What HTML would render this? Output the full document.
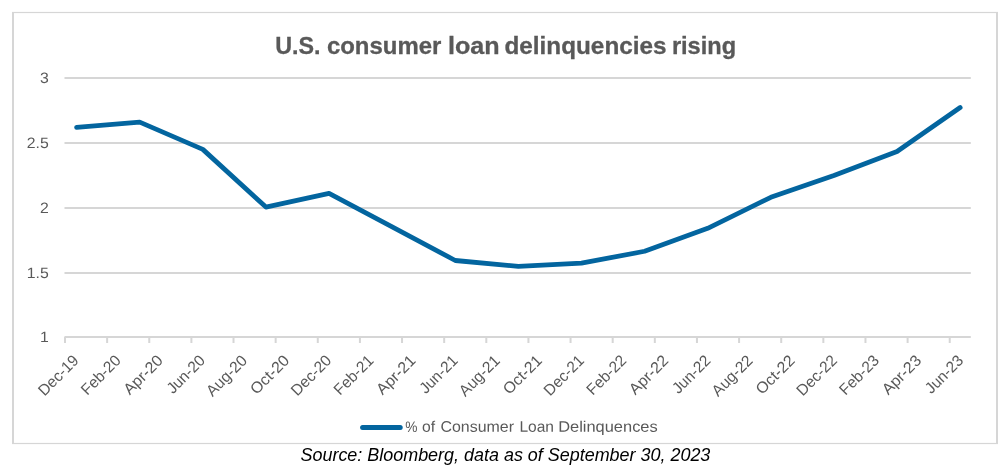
<!DOCTYPE html>
<html><head><meta charset="utf-8"><title>U.S. consumer loan delinquencies rising</title>
<style>html,body{margin:0;padding:0;background:#fff;}body{width:1002px;height:475px;overflow:hidden;position:relative;font-family:"Liberation Sans",sans-serif;}svg{position:absolute;left:0;top:0;display:block;will-change:transform;}text{font-family:"Liberation Sans",sans-serif;}</style>
</head><body>
<svg width="1002" height="475" viewBox="0 0 1002 475">
<rect x="0" y="0" width="1002" height="475" fill="#ffffff"/>
<g fill="#d6d6d6">
<rect x="12" y="12" width="2" height="432"/>
<rect x="996" y="12" width="2" height="432"/>
<rect x="12" y="11.9" width="986" height="1.2"/>
<rect x="12" y="442.9" width="986" height="1.2"/>
<rect x="64.5" y="77.0" width="906.3" height="2"/>
<rect x="64.5" y="142.0" width="906.3" height="2"/>
<rect x="64.5" y="207.0" width="906.3" height="2"/>
<rect x="64.5" y="272.0" width="906.3" height="2"/>
<rect x="64.5" y="336.0" width="906.3" height="2"/>
<rect x="64.00" y="337" width="2" height="6"/>
<rect x="106.13" y="337" width="2" height="6"/>
<rect x="148.26" y="337" width="2" height="6"/>
<rect x="190.39" y="337" width="2" height="6"/>
<rect x="232.52" y="337" width="2" height="6"/>
<rect x="274.65" y="337" width="2" height="6"/>
<rect x="316.78" y="337" width="2" height="6"/>
<rect x="358.91" y="337" width="2" height="6"/>
<rect x="401.04" y="337" width="2" height="6"/>
<rect x="443.17" y="337" width="2" height="6"/>
<rect x="485.30" y="337" width="2" height="6"/>
<rect x="527.43" y="337" width="2" height="6"/>
<rect x="569.56" y="337" width="2" height="6"/>
<rect x="611.69" y="337" width="2" height="6"/>
<rect x="653.82" y="337" width="2" height="6"/>
<rect x="695.95" y="337" width="2" height="6"/>
<rect x="738.08" y="337" width="2" height="6"/>
<rect x="780.21" y="337" width="2" height="6"/>
<rect x="822.34" y="337" width="2" height="6"/>
<rect x="864.47" y="337" width="2" height="6"/>
<rect x="906.60" y="337" width="2" height="6"/>
<rect x="948.73" y="337" width="2" height="6"/>
</g>
<g font-size="15.8" fill="#595959" text-anchor="end">
<text transform="translate(48.7,83.00) rotate(0.03) scale(1,0.95)">3</text>
<text transform="translate(48.7,148.00) rotate(0.03) scale(1,0.95)">2.5</text>
<text transform="translate(48.7,213.00) rotate(0.03) scale(1,0.95)">2</text>
<text transform="translate(48.7,278.00) rotate(0.03) scale(1,0.95)">1.5</text>
<text transform="translate(48.7,342.00) rotate(0.03) scale(1,0.95)">1</text>
</g>
<g font-size="15.7" fill="#595959" text-anchor="end">
<text transform="translate(79.60,361.50) rotate(-45)" textLength="49.7" lengthAdjust="spacingAndGlyphs">Dec-19</text>
<text transform="translate(121.73,361.50) rotate(-45)" textLength="48.8" lengthAdjust="spacingAndGlyphs">Feb-20</text>
<text transform="translate(163.86,361.50) rotate(-45)" textLength="48.2" lengthAdjust="spacingAndGlyphs">Apr-20</text>
<text transform="translate(205.99,361.50) rotate(-45)" textLength="46.8" lengthAdjust="spacingAndGlyphs">Jun-20</text>
<text transform="translate(248.12,361.50) rotate(-45)" textLength="50.4" lengthAdjust="spacingAndGlyphs">Aug-20</text>
<text transform="translate(290.25,361.50) rotate(-45)" textLength="47.7" lengthAdjust="spacingAndGlyphs">Oct-20</text>
<text transform="translate(332.38,361.50) rotate(-45)" textLength="49.7" lengthAdjust="spacingAndGlyphs">Dec-20</text>
<text transform="translate(374.51,361.50) rotate(-45)" textLength="48.8" lengthAdjust="spacingAndGlyphs">Feb-21</text>
<text transform="translate(416.64,361.50) rotate(-45)" textLength="48.2" lengthAdjust="spacingAndGlyphs">Apr-21</text>
<text transform="translate(458.77,361.50) rotate(-45)" textLength="46.8" lengthAdjust="spacingAndGlyphs">Jun-21</text>
<text transform="translate(500.90,361.50) rotate(-45)" textLength="50.4" lengthAdjust="spacingAndGlyphs">Aug-21</text>
<text transform="translate(543.03,361.50) rotate(-45)" textLength="47.7" lengthAdjust="spacingAndGlyphs">Oct-21</text>
<text transform="translate(585.16,361.50) rotate(-45)" textLength="49.7" lengthAdjust="spacingAndGlyphs">Dec-21</text>
<text transform="translate(627.29,361.50) rotate(-45)" textLength="48.8" lengthAdjust="spacingAndGlyphs">Feb-22</text>
<text transform="translate(669.42,361.50) rotate(-45)" textLength="48.2" lengthAdjust="spacingAndGlyphs">Apr-22</text>
<text transform="translate(711.55,361.50) rotate(-45)" textLength="46.8" lengthAdjust="spacingAndGlyphs">Jun-22</text>
<text transform="translate(753.68,361.50) rotate(-45)" textLength="50.4" lengthAdjust="spacingAndGlyphs">Aug-22</text>
<text transform="translate(795.81,361.50) rotate(-45)" textLength="47.7" lengthAdjust="spacingAndGlyphs">Oct-22</text>
<text transform="translate(837.94,361.50) rotate(-45)" textLength="49.7" lengthAdjust="spacingAndGlyphs">Dec-22</text>
<text transform="translate(880.07,361.50) rotate(-45)" textLength="48.8" lengthAdjust="spacingAndGlyphs">Feb-23</text>
<text transform="translate(922.20,361.50) rotate(-45)" textLength="48.2" lengthAdjust="spacingAndGlyphs">Apr-23</text>
<text transform="translate(964.33,361.50) rotate(-45)" textLength="46.8" lengthAdjust="spacingAndGlyphs">Jun-23</text>
</g>
<g font-size="24" font-weight="bold" fill="#595959" stroke="#595959" stroke-width="0.3">
<text x="275.2" y="53.9" textLength="45.3" lengthAdjust="spacingAndGlyphs">U.S.</text>
<text x="326.9" y="53.9" textLength="114.4" lengthAdjust="spacingAndGlyphs">consumer</text>
<text x="448.0" y="53.9" textLength="51.7" lengthAdjust="spacingAndGlyphs">loan</text>
<text x="504.5" y="53.9" textLength="162.0" lengthAdjust="spacingAndGlyphs">delinquencies</text>
<text x="671.9" y="53.9" textLength="64.2" lengthAdjust="spacingAndGlyphs">rising</text>
</g>
<path d="M76.60 127.35 L139.71 122.16 L202.82 149.38 L265.93 207.05 L329.04 193.40 L392.15 226.80 L455.26 260.50 L518.37 266.41 L581.48 263.17 L644.59 251.25 L707.70 228.31 L770.81 197.33 L833.92 175.43 L897.03 151.45 L960.14 107.52" fill="none" stroke="#03659f" stroke-width="4.8" stroke-linecap="round" stroke-linejoin="round"/>
<line x1="362.6" y1="427.4" x2="400.2" y2="427.4" stroke="#03659f" stroke-width="5" stroke-linecap="round"/>
<g font-size="15.3" fill="#595959" transform="rotate(0.03 530 431.7)">
<text x="405.2" y="431.7" textLength="12.2" lengthAdjust="spacingAndGlyphs">%</text>
<text x="422.1" y="431.7" textLength="13.1" lengthAdjust="spacingAndGlyphs">of</text>
<text x="440.5" y="431.7" textLength="73.5" lengthAdjust="spacingAndGlyphs">Consumer</text>
<text x="519.4" y="431.7" textLength="34.6" lengthAdjust="spacingAndGlyphs">Loan</text>
<text x="558.2" y="431.7" textLength="99.5" lengthAdjust="spacingAndGlyphs">Delinquences</text>
</g>
<text x="300.5" y="460.9" font-size="17.95" font-style="italic" fill="#000000">Source: Bloomberg, data as of September 30, 2023</text>
</svg>
</body></html>
